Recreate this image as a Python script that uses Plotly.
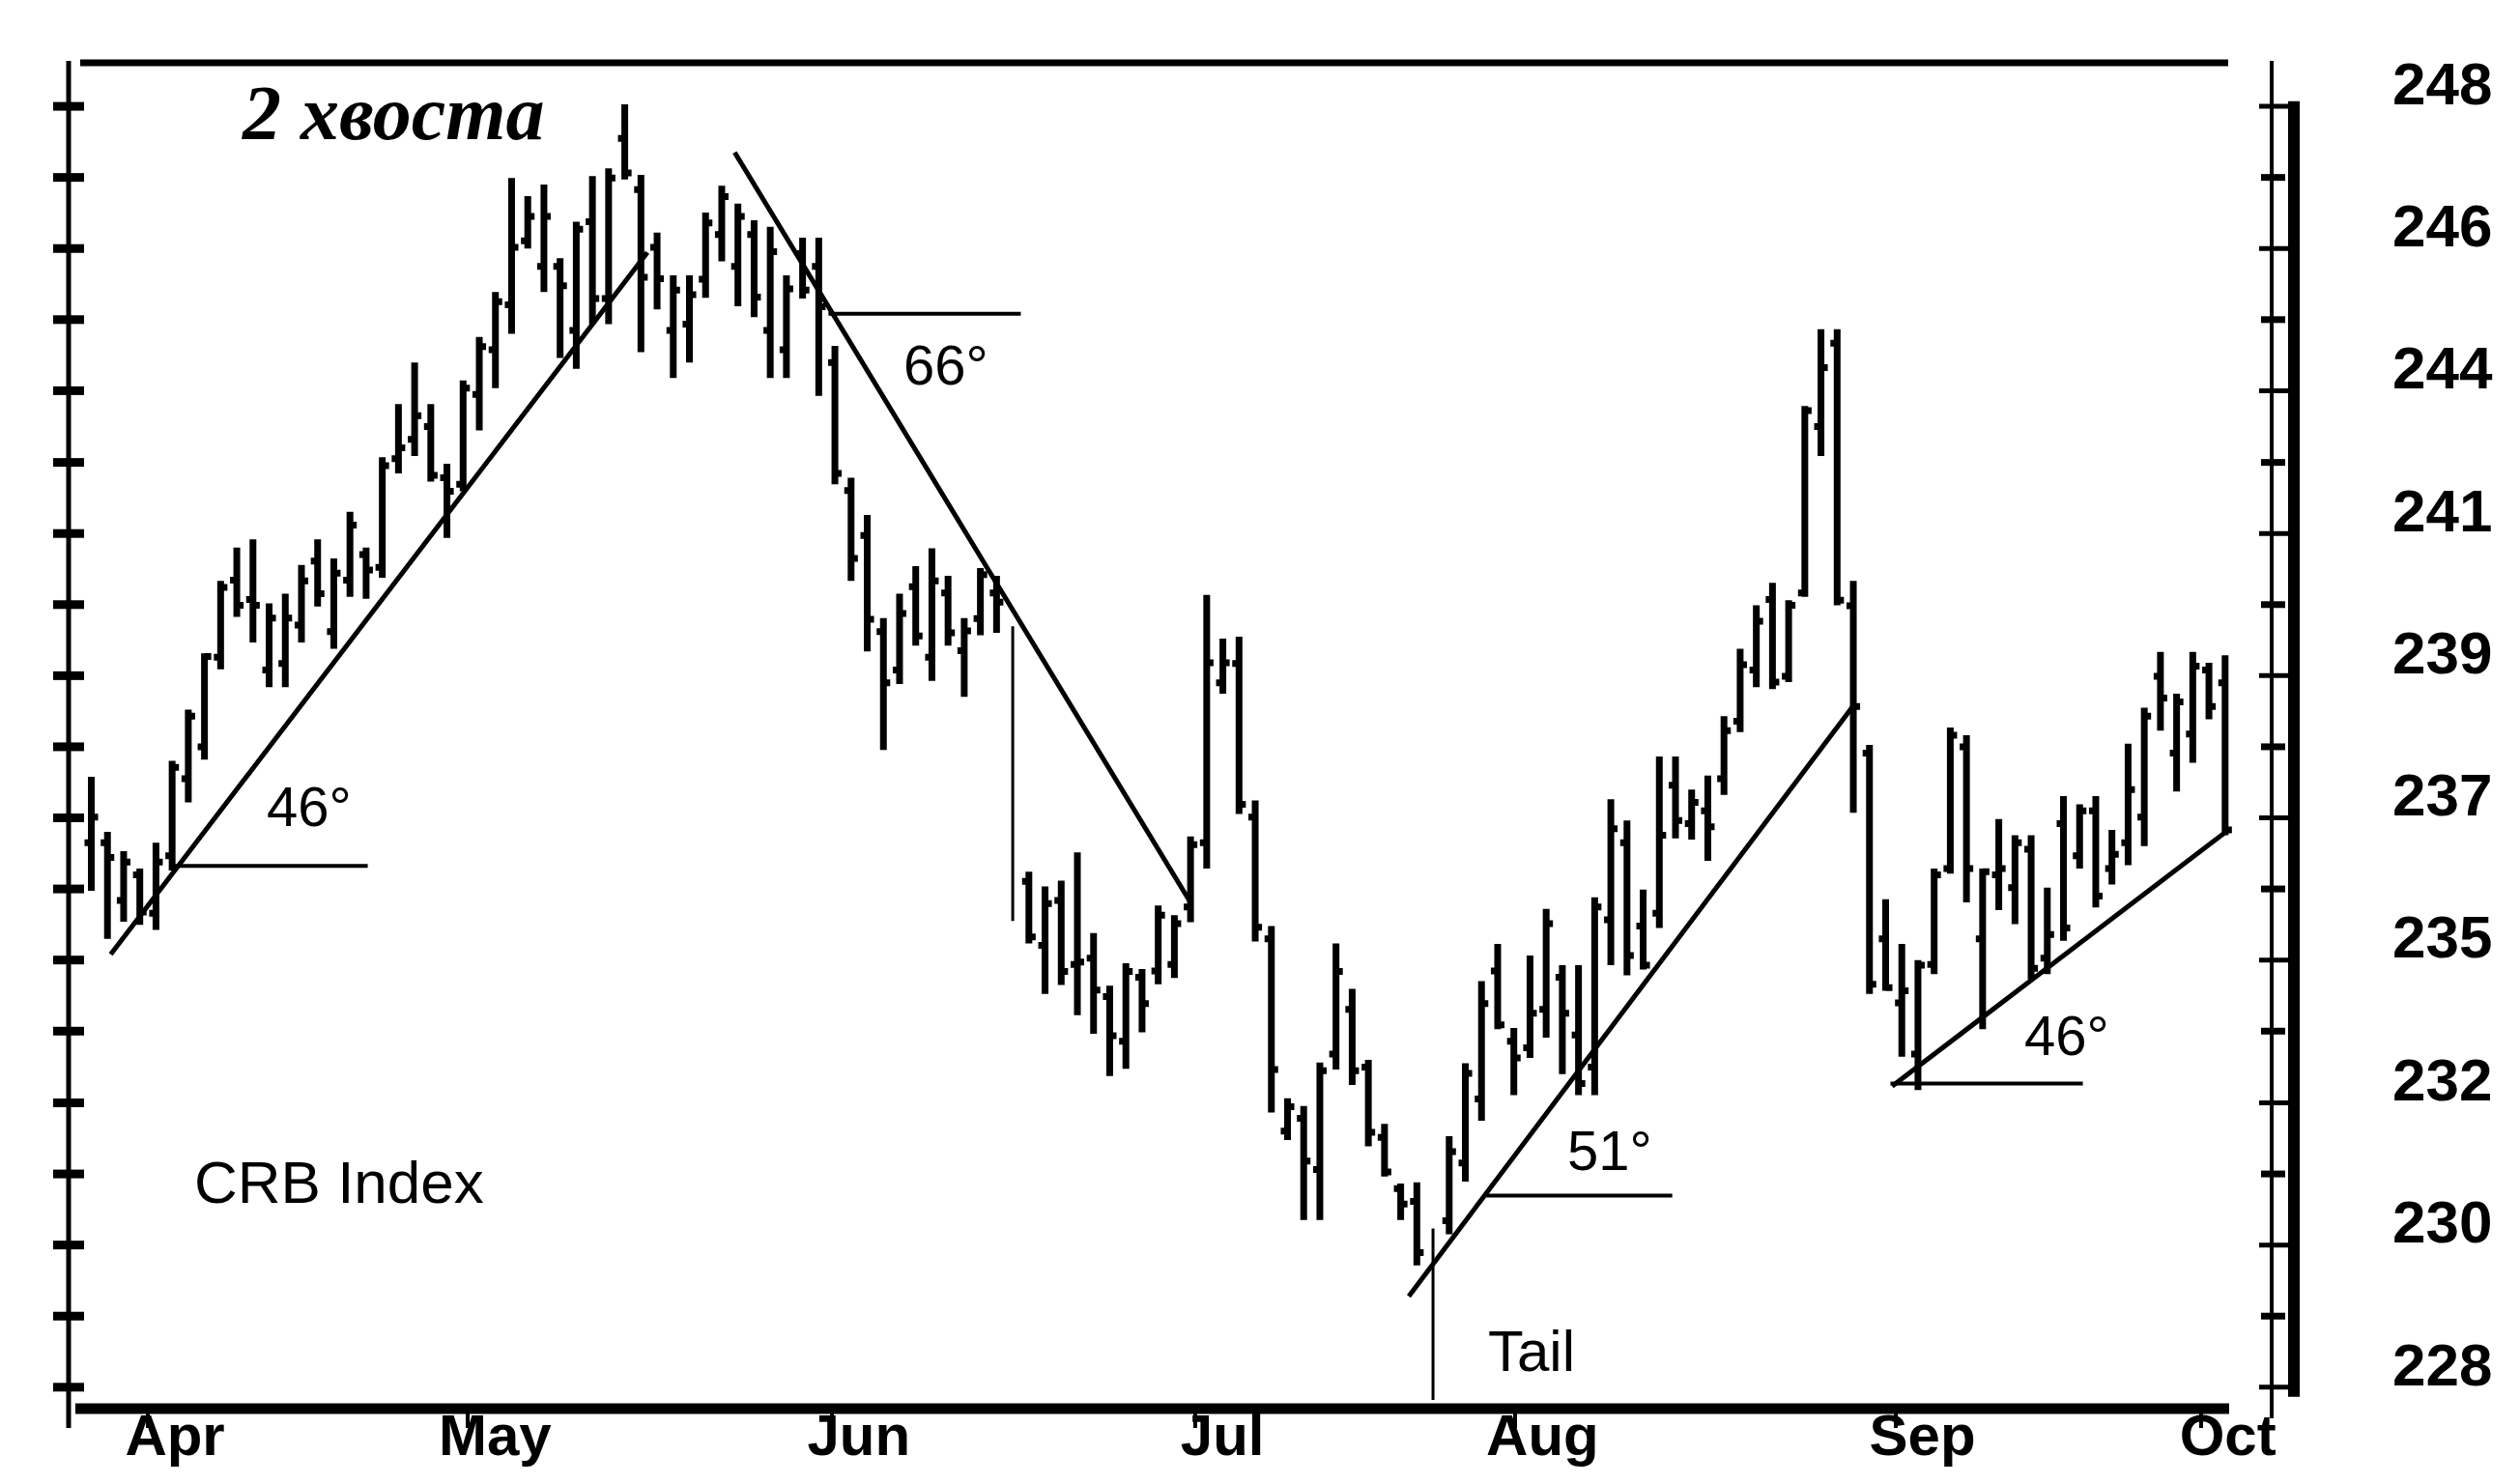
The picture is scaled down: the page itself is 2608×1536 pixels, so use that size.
import plotly.graph_objects as go

# ---------------- data ----------------
days = list(range(133))

opens = [236.5, 236.5, 235.6, 236.0, 235.4, 236.3, 237.5, 238.0, 239.4, 240.6,
         240.3, 239.2, 239.3, 239.9, 240.9, 239.8, 240.6, 241.0, 240.8, 242.5,
         242.8, 243.0, 242.2, 242.1, 243.5, 244.2, 244.9, 245.9, 245.5, 245.5,
         244.5, 246.2, 245.0, 247.5, 246.7, 245.8, 244.5, 244.6, 245.3, 246.0,
         245.5, 246.0, 244.5, 244.2, 245.7, 245.5, 244.0, 242.0, 241.3, 239.8,
         239.2, 240.5, 239.4, 240.4, 239.5, 240.0, 240.4, 239.5, 235.9, 234.9,
         235.6, 234.6, 234.7, 234.1, 233.4, 234.4, 234.5, 234.6, 235.5, 236.5,
         239.0, 239.3, 236.9, 235.0, 232.0, 232.2, 231.4, 233.2, 233.9, 233.0,
         231.9, 231.1, 230.9, 229.9, 230.6, 231.5, 232.5, 234.5, 233.4, 233.3,
         233.9, 234.4, 233.5, 233.0, 235.3, 236.5, 235.2, 235.4, 237.4, 236.8,
         237.0, 237.5, 238.4, 239.2, 240.3, 239.1, 240.4, 243.0, 244.3, 240.2,
         237.9, 235.0, 234.0, 233.2, 234.6, 236.1, 238.0, 235.0, 236.0, 235.8,
         236.4, 234.7, 236.8, 236.3, 237.0, 236.1, 236.5, 236.9, 239.1, 237.9,
         238.2, 239.2, 239.0]

highs = [237.53, 236.67, 236.37, 236.1, 236.5, 237.78, 238.58, 239.46, 240.59, 241.11,
         241.24, 240.24, 240.39, 240.84, 241.24, 240.94, 241.67, 241.11, 242.52, 243.35,
         244.0, 243.35, 242.42, 243.72, 244.4, 245.1, 246.88, 246.6, 246.78, 245.63,
         246.2, 246.91, 247.03, 248.03, 246.93, 246.03, 245.36, 245.36, 246.34, 246.76,
         246.48, 246.22, 246.12, 245.36, 245.95, 245.95, 244.26, 242.2, 241.62, 240.01,
         240.39, 240.82, 241.1, 240.67, 240.01, 240.79, 240.67, 239.88, 236.05, 235.82,
         235.91, 236.35, 235.09, 234.27, 234.62, 234.53, 235.52, 235.37, 236.6, 240.37,
         239.69, 239.72, 237.16, 235.2, 232.51, 232.39, 233.07, 234.93, 234.22, 233.11,
         232.11, 231.18, 231.2, 230.48, 231.92, 233.06, 234.34, 234.92, 233.61, 234.74,
         235.47, 234.59, 234.59, 235.65, 237.18, 236.85, 235.77, 237.85, 237.85, 237.33,
         237.55, 238.48, 239.53, 240.21, 240.56, 240.29, 243.32, 244.52, 244.52, 240.59,
         238.03, 235.62, 234.92, 234.67, 236.1, 238.3, 238.18, 236.1, 236.87, 236.62,
         236.62, 235.8, 237.23, 237.1, 237.23, 236.7, 238.05, 238.61, 239.48, 238.83,
         239.48, 239.31, 239.43]

lows = [235.75, 235.0, 235.27, 235.22, 235.14, 236.07, 237.13, 237.8, 239.21, 240.03,
        239.63, 238.93, 238.93, 239.63, 240.19, 239.53, 240.34, 240.31, 240.64, 242.27,
        242.54, 242.14, 241.26, 241.99, 242.94, 243.6, 244.45, 245.78, 245.1, 244.07,
        243.9, 244.6, 244.6, 246.86, 244.16, 244.83, 243.76, 244.0, 245.01, 245.58,
        244.88, 244.71, 243.76, 243.76, 245.0, 243.48, 242.1, 240.59, 239.49, 237.95,
        238.98, 239.58, 239.03, 239.58, 238.78, 239.74, 239.78, 235.28, 234.93, 234.14,
        234.28, 233.81, 233.52, 232.86, 232.97, 233.54, 234.29, 234.39, 235.26, 236.1,
        238.83, 236.95, 234.96, 232.29, 231.86, 230.61, 230.61, 232.96, 232.72, 231.76,
        231.29, 230.61, 229.9, 227.8, 230.39, 231.21, 232.16, 233.59, 232.56, 233.14,
        233.46, 232.89, 232.56, 232.56, 234.59, 234.43, 234.52, 235.17, 236.57, 236.55,
        236.22, 237.25, 238.23, 238.93, 238.9, 239.01, 240.34, 242.54, 240.21, 236.97,
        234.14, 234.19, 233.16, 232.64, 234.45, 236.02, 235.57, 233.59, 235.45, 235.23,
        234.37, 234.45, 234.97, 236.1, 235.49, 235.85, 236.15, 236.45, 238.25, 237.3,
        237.75, 238.43, 236.62]

closes = [236.9, 236.27, 236.2, 235.42, 236.2, 237.68, 238.48, 239.41, 240.49, 240.21,
          240.21, 240.01, 240.01, 240.59, 240.39, 240.71, 241.46, 240.76, 242.39, 242.67,
          243.17, 242.24, 241.99, 243.6, 244.25, 244.95, 245.8, 246.28, 246.28, 245.2,
          246.08, 245.0, 246.88, 246.96, 245.33, 245.31, 245.13, 245.06, 246.18, 246.59,
          246.28, 245.02, 245.73, 245.15, 245.13, 244.87, 242.27, 240.94, 239.99, 239.0,
          240.08, 239.73, 240.59, 239.78, 239.81, 240.69, 240.26, 236.07, 235.03, 235.55,
          234.49, 234.64, 234.2, 233.49, 234.49, 233.99, 235.37, 235.24, 236.47, 239.31,
          239.31, 237.1, 235.18, 232.96, 232.38, 231.53, 232.94, 234.49, 232.94, 231.98,
          231.36, 230.86, 230.1, 230.23, 231.68, 232.9, 233.99, 233.66, 233.14, 233.84,
          235.24, 233.84, 232.74, 235.5, 236.72, 234.74, 234.59, 236.62, 236.85, 237.13,
          236.75, 238.25, 239.28, 239.96, 239.01, 240.21, 243.25, 243.92, 240.29, 238.63,
          234.29, 234.24, 234.19, 234.59, 236.0, 238.18, 236.1, 236.05, 236.1, 236.5,
          234.54, 235.07, 235.17, 237.0, 235.67, 236.32, 237.33, 238.48, 238.76, 238.7,
          239.26, 238.63, 236.7]

tail_days = [57, 83]   # the two "tails" (thin bars)

month_tick_days = [3.5, 23.3, 45.8, 68.3, 88.1, 111.6, 130.5]
month_labels = ["Apr", "May", "Jun", "Jul", "Aug", "Sep", "Oct"]

price_ticks = [228.0, 230.22, 232.44, 234.67, 236.89, 239.11, 241.33, 243.56, 245.78, 248.0]
price_labels = ["228", "230", "232", "235", "237", "239", "241", "244", "246", "248"]
half_ticks = [229.11, 231.33, 233.56, 235.78, 238.0, 240.22, 242.44, 244.67, 246.89]

# trend lines (start day, end day) and (start price, end price)
up1_x, up1_y = [1.2, 34.4], [234.76, 245.72]
down_x, down_y = [39.8, 67.95], [247.28, 235.59]
up2_x, up2_y = [81.5, 109.0], [229.42, 238.64]
up3_x, up3_y = [111.4, 132.2], [232.7, 236.7]

# horizontal reference lines for the angles
base_x0 = [5.0, 45.6, 86.3, 111.3]
base_x1 = [17.1, 57.5, 97.8, 123.2]
base_y = [236.14, 244.76, 230.99, 232.74]

angle_labels = ["46°", "66°", "51°", "46°"]
angle_x = [10.7, 50.1, 91.2, 119.45]
angle_y = [237.07, 243.97, 231.7, 233.5]

# ---------------- figure ----------------
W, H = 2608, 1536
ML, MR, MT, MB = 63, 263, 57, 83
PW = W - ML - MR
PH = H - MT - MB

def px_x(full_x):
    return (full_x - ML) / PW

def px_y(full_y):
    return (H - MB - full_y) / PH

main_idx = [i for i in days if i not in tail_days]

fig = go.Figure()

black = "black"
fig.add_trace(go.Ohlc(
    x=[days[i] for i in main_idx],
    open=[opens[i] for i in main_idx],
    high=[highs[i] for i in main_idx],
    low=[lows[i] for i in main_idx],
    close=[closes[i] for i in main_idx],
    increasing=dict(line=dict(color=black, width=7)),
    decreasing=dict(line=dict(color=black, width=7)),
    tickwidth=0.42, showlegend=False, hoverinfo="skip",
))
fig.add_trace(go.Ohlc(
    x=[days[i] for i in tail_days],
    open=[opens[i] for i in tail_days],
    high=[highs[i] for i in tail_days],
    low=[lows[i] for i in tail_days],
    close=[closes[i] for i in tail_days],
    increasing=dict(line=dict(color=black, width=3)),
    decreasing=dict(line=dict(color=black, width=3)),
    tickwidth=0.42 / (tail_days[1] - tail_days[0]), showlegend=False, hoverinfo="skip",
))

for lx, ly in [(up1_x, up1_y), (down_x, down_y), (up2_x, up2_y), (up3_x, up3_y)]:
    fig.add_trace(go.Scatter(x=lx, y=ly, mode="lines", line=dict(color=black, width=5),
                             showlegend=False, hoverinfo="skip"))
for x0, x1, yv in zip(base_x0, base_x1, base_y):
    fig.add_trace(go.Scatter(x=[x0, x1], y=[yv, yv], mode="lines",
                             line=dict(color=black, width=4),
                             showlegend=False, hoverinfo="skip"))

shapes = []
# frame: top line, bottom axis, left axis, right axis (thin + thick)
shapes.append(dict(type="line", xref="paper", yref="paper", x0=px_x(75), x1=px_x(2298),
                   y0=px_y(57), y1=px_y(57), line=dict(color=black, width=7)))
shapes.append(dict(type="line", xref="paper", yref="paper", x0=px_x(70), x1=px_x(2299),
                   y0=px_y(1450), y1=px_y(1450), line=dict(color=black, width=11)))
shapes.append(dict(type="line", xref="paper", yref="paper", x0=px_x(63), x1=px_x(63),
                   y0=px_y(1470), y1=px_y(55), line=dict(color=black, width=5)))
shapes.append(dict(type="line", xref="paper", yref="paper", x0=px_x(2343), x1=px_x(2343),
                   y0=px_y(1460), y1=px_y(55), line=dict(color=black, width=4)))
shapes.append(dict(type="line", xref="paper", yref="y", x0=px_x(2366), x1=px_x(2366),
                   y0=227.85, y1=248.08, line=dict(color=black, width=12)))
# left axis tick marks
for v in price_ticks + half_ticks:
    shapes.append(dict(type="line", xref="paper", yref="y", x0=px_x(47), x1=px_x(79),
                       y0=v, y1=v, line=dict(color=black, width=9)))
# right axis tick marks
for v in price_ticks:
    shapes.append(dict(type="line", xref="paper", yref="y", x0=px_x(2330), x1=px_x(2371),
                       y0=v, y1=v, line=dict(color=black, width=5)))
for v in half_ticks:
    shapes.append(dict(type="line", xref="paper", yref="y", x0=px_x(2332), x1=px_x(2357),
                       y0=v, y1=v, line=dict(color=black, width=7)))

annotations = []
annotations.append(dict(x=9.2, y=247.9, xref="x", yref="y", text="<b><i>2 хвоста</i></b>",
                        showarrow=False, xanchor="left", yanchor="middle",
                        font=dict(family="Liberation Serif, DejaVu Serif, serif", size=80, color=black)))
annotations.append(dict(x=6.25, y=231.2, xref="x", yref="y", text="CRB Index",
                        showarrow=False, xanchor="left", yanchor="middle",
                        font=dict(family="Liberation Sans, Arial, sans-serif", size=62, color=black)))
for t, ax, ay in zip(angle_labels, angle_x, angle_y):
    annotations.append(dict(x=ax, y=ay, xref="x", yref="y", text=t, showarrow=False,
                            xanchor="left", yanchor="middle",
                            font=dict(family="Liberation Sans, Arial, sans-serif", size=58, color=black)))
annotations.append(dict(x=86.3, y=228.57, xref="x", yref="y", text="Tail", showarrow=False,
                        xanchor="left", yanchor="middle",
                        font=dict(family="Liberation Sans, Arial, sans-serif", size=60, color=black)))

x_tick_font = dict(family="Liberation Sans, Arial, sans-serif", size=60, color=black, weight="bold")
y_tick_font = dict(family="Liberation Sans, Arial, sans-serif", size=62, color=black, weight="bold")

fig.update_layout(
    width=W, height=H,
    margin=dict(l=ML, r=MR, t=MT, b=MB, pad=0, autoexpand=False),
    paper_bgcolor="white", plot_bgcolor="white",
    shapes=shapes, annotations=annotations,
    showlegend=False,
    xaxis=dict(range=[-1.405, 135.0], showgrid=False, zeroline=False, showline=False,
               automargin=False, rangeslider=dict(visible=False),
               tickmode="array", tickvals=month_tick_days, ticktext=month_labels,
               ticks="outside", ticklen=16, tickwidth=4, tickcolor=black,
               ticklabelshift=28, ticklabelstandoff=-44,
               tickfont=x_tick_font, fixedrange=True),
    yaxis=dict(range=[227.62, 248.68], side="right", showgrid=False, zeroline=False,
               showline=False, automargin=False,
               tickmode="array", tickvals=price_ticks, ticktext=price_labels,
               ticks="", ticklabelstandoff=122, ticklabelshift=-24,
               tickfont=y_tick_font, fixedrange=True),
)

fig.write_html("out.html")
